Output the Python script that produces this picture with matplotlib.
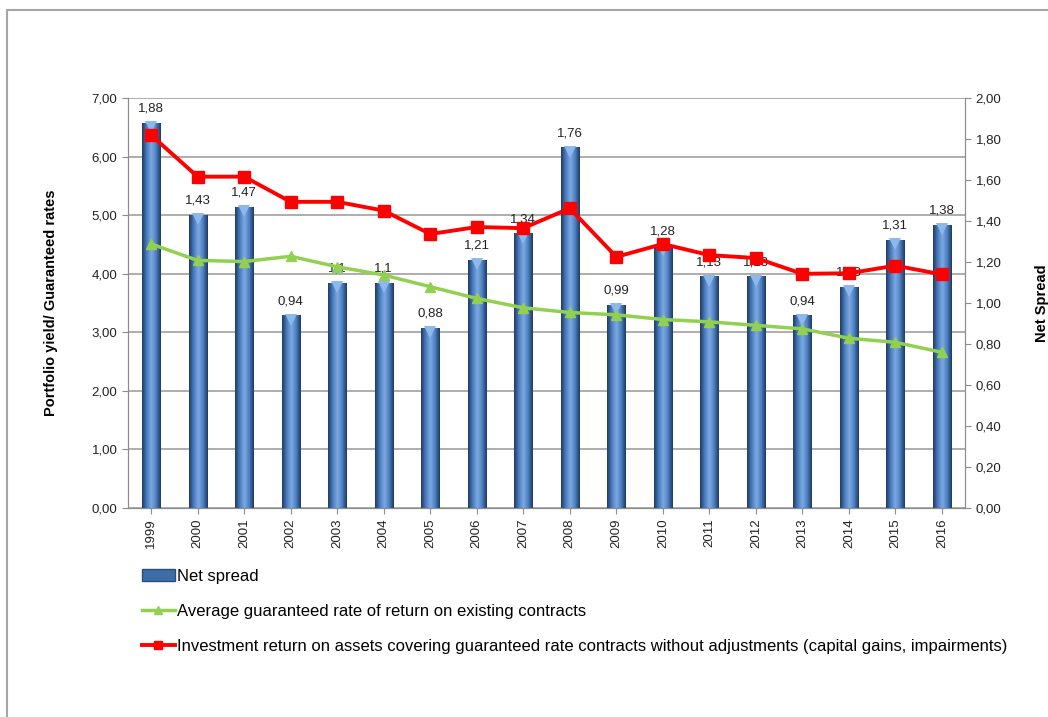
import numpy as np
import matplotlib.pyplot as plt
from matplotlib.ticker import FuncFormatter, MultipleLocator
from matplotlib.colors import LinearSegmentedColormap
from matplotlib.patches import Rectangle, Patch
from matplotlib.lines import Line2D
import matplotlib.transforms as mtransforms

plt.rcParams['font.family'] = ['Liberation Sans', 'DejaVu Sans']

# data
years = [str(y) for y in range(1999, 2017)]
net_spread = [1.88, 1.43, 1.47, 0.94, 1.10, 1.10, 0.88, 1.21, 1.34, 1.76,
              0.99, 1.28, 1.13, 1.13, 0.94, 1.08, 1.31, 1.38]
spread_labels = ['1,88', '1,43', '1,47', '0,94', '1,1', '1,1', '0,88', '1,21', '1,34', '1,76',
                 '0,99', '1,28', '1,13', '1,13', '0,94', '1,08', '1,31', '1,38']
guaranteed = [4.51, 4.23, 4.21, 4.30, 4.12, 3.98, 3.78, 3.58, 3.42, 3.34,
              3.30, 3.22, 3.18, 3.12, 3.06, 2.90, 2.83, 2.66]
inv_return = [6.37, 5.66, 5.66, 5.23, 5.23, 5.08, 4.68, 4.80, 4.78, 5.12,
              4.29, 4.51, 4.32, 4.27, 4.00, 4.01, 4.14, 3.99]

x = np.arange(len(years))
comma = FuncFormatter(lambda v, p: f'{v:.2f}'.replace('.', ','))

fig = plt.figure(figsize=(10.48, 7.17), dpi=100)
pos = [0.122, 0.2915, 0.799, 0.5715]

# outer frame
fig.patches.append(Rectangle((0.0067, -0.01), 1.2, 0.996, transform=fig.transFigure,
                             fill=False, edgecolor='#A6A6A6', linewidth=1.5))

ax1 = fig.add_axes(pos)
ax2 = ax1.twinx()
ax3 = fig.add_axes(pos, sharex=ax1, sharey=ax1)
ax1.set_zorder(1)
ax2.set_zorder(2)
ax3.set_zorder(3)
ax2.patch.set_visible(False)
ax3.patch.set_visible(False)
ax3.axis('off')

# left axis + gridlines
ax1.set_ylim(0, 7)
ax1.yaxis.set_major_locator(MultipleLocator(1))
ax1.yaxis.set_major_formatter(comma)
ax1.grid(axis='y', color='#A0A0A0', linewidth=1.2)
ax1.set_xlim(-0.5, len(years) - 0.5)
ax1.set_xticks(x)
ax1.set_xticklabels(years, rotation=90, fontsize=9.5)
ax1.set_ylabel('Portfolio yield/ Guaranteed rates', fontsize=10.5, fontweight='bold', labelpad=24)

# bars on the right axis
ax2.set_ylim(0, 2)
ax2.yaxis.set_major_locator(MultipleLocator(0.2))
ax2.yaxis.set_major_formatter(comma)
ax2.set_ylabel('Net Spread', fontsize=10.5, fontweight='bold', labelpad=24)
bw = 0.39
bars = ax2.bar(x, net_spread, width=bw, color='#3C6DA8', edgecolor='#2A4D7A', linewidth=0.6, zorder=2)
cyl = LinearSegmentedColormap.from_list('cyl', ['#1F3B63', '#4A7CC0', '#7DAAE0', '#4D80C2', '#1E3A60'])
grad = np.linspace(0, 1, 64).reshape(1, -1)
for b in bars:
    im = ax2.imshow(grad, extent=[b.get_x(), b.get_x() + b.get_width(), 0, b.get_height()],
                    aspect='auto', cmap=cyl, zorder=2.5)
    im.set_clip_path(b)
down = mtransforms.offset_copy(ax2.transData, fig=fig, x=0, y=-3, units='points')
ax2.plot(x, net_spread, 'v', ms=9, color='#8DB8EA', markeredgewidth=0, transform=down, zorder=3)
ax2.set_xlim(-0.5, len(years) - 0.5)
ax2.set_ylim(0, 2)
for xi, v, lab in zip(x, net_spread, spread_labels):
    ax2.annotate(lab, (xi, v), xytext=(0, 6), textcoords='offset points',
                 ha='center', va='bottom', fontsize=9.5, color='#222222', zorder=4)

# lines on left scale
ax3.plot(x, guaranteed, color='#92D050', linewidth=2.5, marker='^', ms=7, zorder=5)
ax3.plot(x, inv_return, color='#FF0000', linewidth=2.8, marker='s', ms=8, zorder=6)

for ax in (ax1, ax2):
    for s in ax.spines.values():
        s.set_color('#8C8C8C')
    ax.tick_params(axis='y', labelsize=9.5, colors='#8C8C8C', labelcolor='#222222', length=4)
    ax.tick_params(axis='x', colors='#8C8C8C', labelcolor='#222222', length=4)
ax1.spines['top'].set_visible(False)
ax2.spines['top'].set_visible(False)

# legend
handles = [Patch(facecolor='#3C6DA8', edgecolor='#2A4D7A'),
           Line2D([], [], color='#92D050', linewidth=2.5, marker='^', ms=6),
           Line2D([], [], color='#FF0000', linewidth=2.8, marker='s', ms=6)]
labels = ['Net spread', 'Average guaranteed rate of return on existing contracts',
          'Investment return on assets covering guaranteed rate contracts without adjustments (capital gains, impairments)']
fig.legend(handles, labels, loc='upper left', bbox_to_anchor=(0.121, 0.228), frameon=False,
           fontsize=12, labelspacing=1.2, handlelength=2.0, handletextpad=0.1)

fig.savefig('out.png', dpi=100)
